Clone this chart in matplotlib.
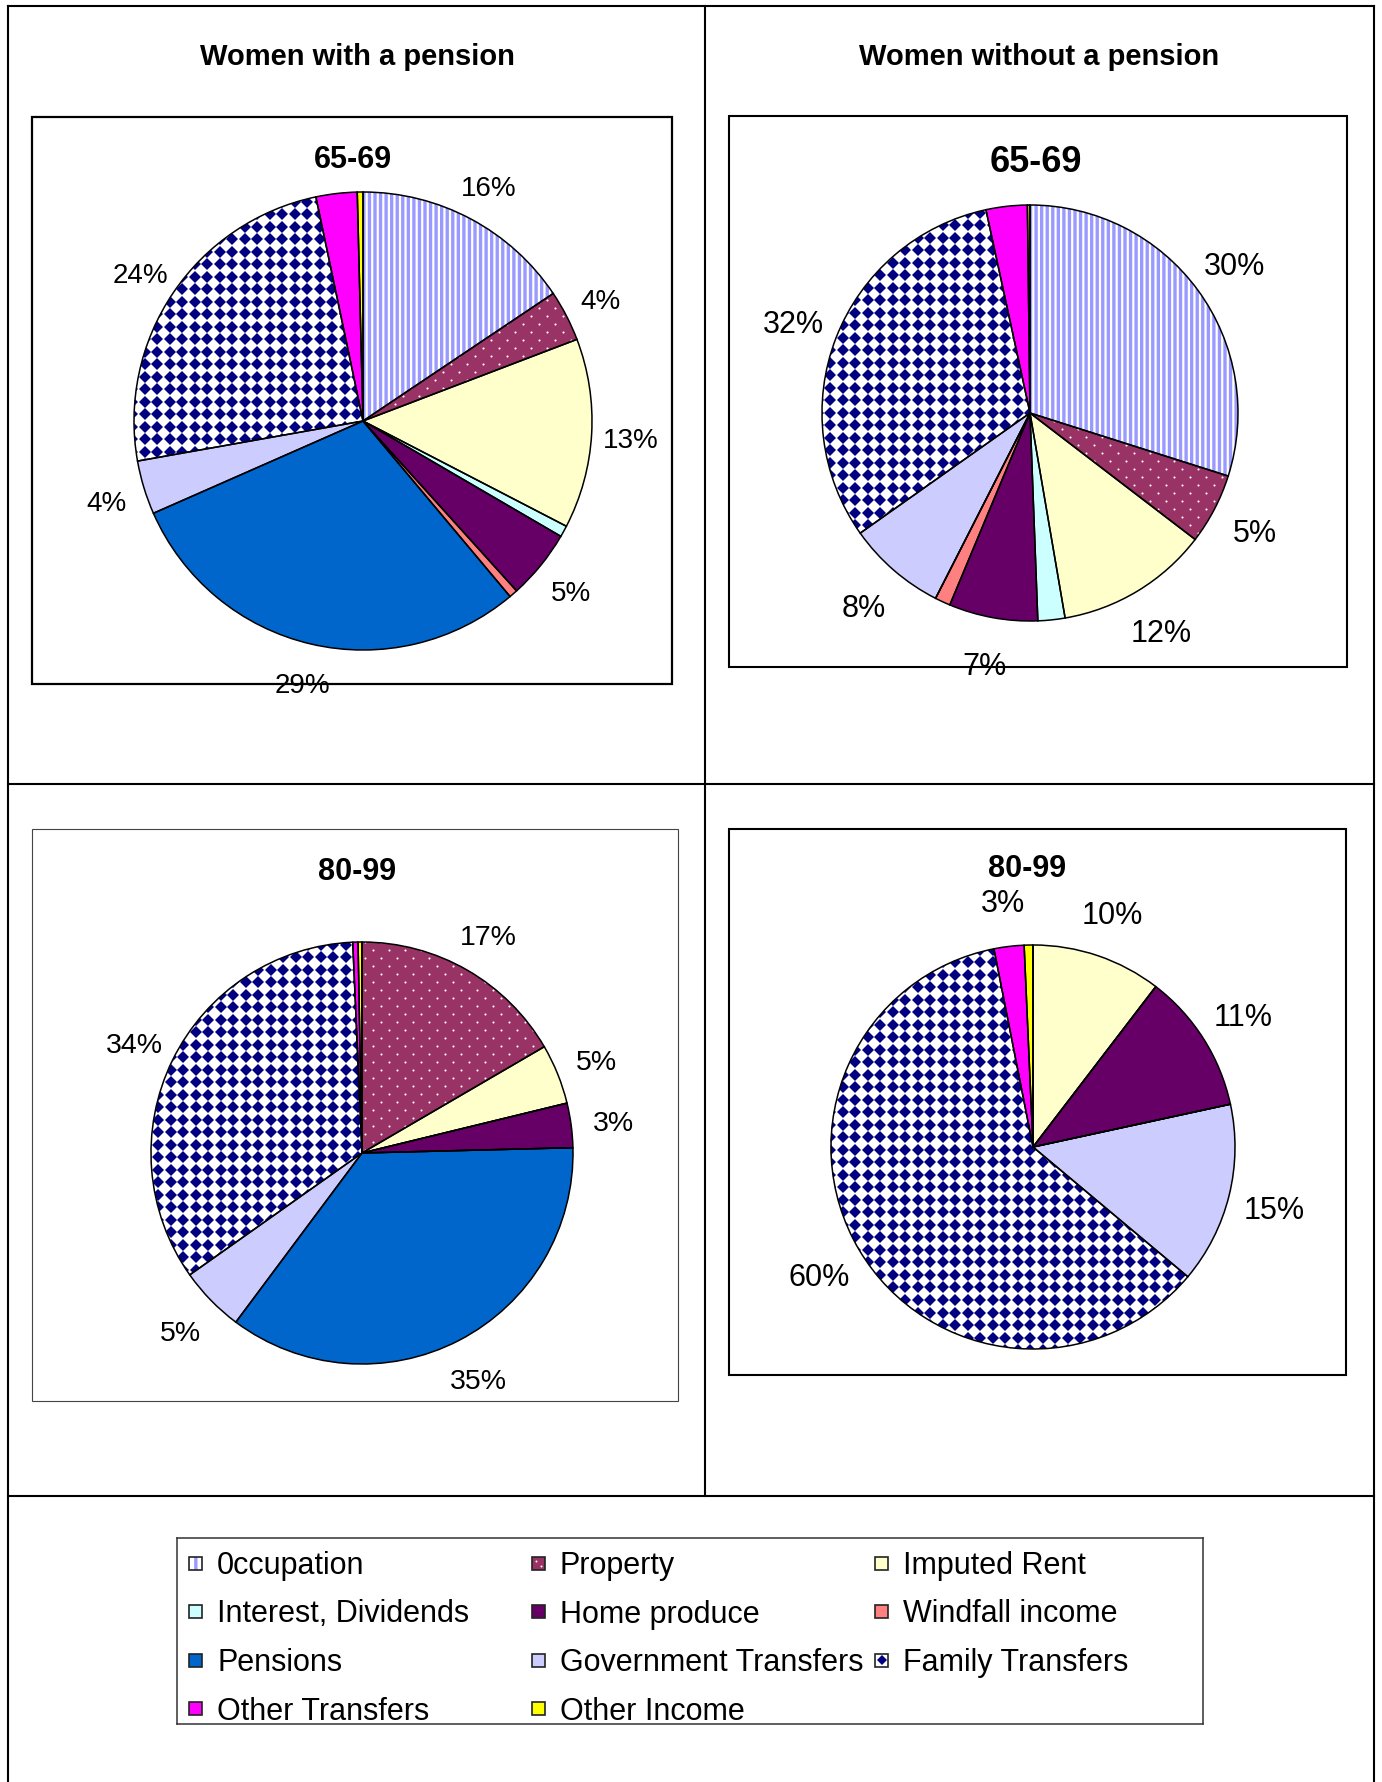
import numpy as np
import matplotlib
matplotlib.use("Agg")
import matplotlib.pyplot as plt
from matplotlib.patches import Rectangle
from matplotlib.lines import Line2D

plt.rcParams['font.family'] = ['Liberation Sans', 'DejaVu Sans']
plt.rcParams['hatch.linewidth'] = 2.4

# ---- data (percent shares, clockwise from 12 o'clock) ----
categories = ["0ccupation", "Property", "Imputed Rent",
              "Interest, Dividends", "Home produce", "Windfall income",
              "Pensions", "Government Transfers", "Family Transfers",
              "Other Transfers", "Other Income"]

with_pension_65 = [15.6, 3.6, 13.4, 0.8, 4.9, 0.6, 29.5, 3.8, 24.5, 2.9, 0.4]
without_pension_65 = [29.9, 5.5, 11.9, 2.1, 6.9, 1.2, 0.0, 7.7, 31.4, 3.2, 0.2]
with_pension_80 = [0.0, 16.6, 4.6, 0.0, 3.4, 0.0, 35.6, 5.0, 34.1, 0.4, 0.3]
without_pension_80 = [0.0, 0.0, 10.4, 0.0, 11.2, 0.0, 0.0, 14.5, 60.8, 2.4, 0.7]

labels_with_65 = ["16%", "4%", "13%", "", "5%", "", "29%", "4%", "24%", "", ""]
labels_without_65 = ["30%", "5%", "12%", "", "7%", "", "", "8%", "32%", "", ""]
labels_with_80 = ["", "17%", "5%", "", "3%", "", "35%", "5%", "34%", "", ""]
labels_without_80 = ["", "", "10%", "", "11%", "", "", "15%", "60%", "3%", ""]

# ---- styling ----
facecolors = ["white", "#993366", "#FFFFCC", "#CCFFFF", "#660066", "#FF8080",
              "#0066CC", "#CCCCFF", "white", "#FF00FF", "#FFFF00"]
OCC, PROP, FAMILY = 0, 1, 8
STRIPE = "#9999FF"
NAVY = "#000080"

W, H = 1382, 1782
fig = plt.figure(figsize=(W / 100, H / 100), dpi=100)


def frect(x0, y0, x1, y1):
    return [x0 / W, 1 - y1 / H, (x1 - x0) / W, (y1 - y0) / H]


def fline(xs, ys, lw=1.5, color="black"):
    fig.add_artist(Line2D([x / W for x in xs], [1 - y / H for y in ys],
                          transform=fig.transFigure, lw=lw, color=color))


def fbox(x0, y0, x1, y1, lw=1.5, color="black"):
    fig.add_artist(Rectangle((x0 / W, 1 - y1 / H), (x1 - x0) / W, (y1 - y0) / H,
                             transform=fig.transFigure, fill=False, lw=lw,
                             edgecolor=color))


def texture(ax, patch, unit, pitch_x, pitch_y, stagger, marker, ms, color):
    """grid of small markers clipped to a patch (unit = pixels per data unit)"""
    x0, x1 = ax.get_xlim()
    y0, y1 = sorted(ax.get_ylim())
    px, py = pitch_x / unit, pitch_y / unit
    xs, ys = [], []
    for k, y in enumerate(np.arange(y0, y1 + py, py)):
        shift = px / 2 if (stagger and k % 2) else 0
        row = np.arange(x0 + shift, x1 + px, px)
        xs.extend(row)
        ys.extend([y] * len(row))
    dots, = ax.plot(xs, ys, ls="none", marker=marker, ms=ms, mfc=color,
                    mec=color, mew=0, zorder=2)
    dots.set_clip_path(patch)


def draw_pie(vals, labels, cx, cy, r, fs, ld):
    ax = fig.add_axes(frect(cx - 1.5 * r, cy - 1.5 * r, cx + 1.5 * r, cy + 1.5 * r))
    wedges, texts = ax.pie(vals, colors=facecolors, labels=labels, startangle=90,
                           counterclock=False, labeldistance=ld,
                           wedgeprops=dict(linewidth=0),
                           textprops=dict(fontsize=fs))
    for w, fc in zip(wedges, facecolors):
        w.set_edgecolor(fc)
    wedges[OCC].set_edgecolor(STRIPE)
    wedges[OCC].set_hatch("|||")
    for t in texts:
        t.set_ha("center")
        t.set_va("center")
        x, y = t.get_position()
        t.set_position((x, y - 0.02))
    ax.set_xlim(-1.5, 1.5)
    ax.set_ylim(-1.5, 1.5)
    texture(ax, wedges[FAMILY], r, 12.5, 12.5, False, "D", 6.0, NAVY)
    texture(ax, wedges[PROP], r, 16, 8, True, "o", 1.5, "white")
    outline, _ = ax.pie(vals, startangle=90, counterclock=False,
                        wedgeprops=dict(fill=False, edgecolor="black", linewidth=1.1))
    for w in outline:
        w.set_zorder(3)
    ax.set_xlim(-1.5, 1.5)
    ax.set_ylim(-1.5, 1.5)
    ax.set_aspect("equal")
    ax.axis("off")
    return ax


# ---- table frame ----
fline([8, 1374], [6, 6])
fline([8, 8], [6, 1782])
fline([1374, 1374], [6, 1782])
fline([705, 705], [6, 1496])
fline([8, 1374], [784, 784])
fline([8, 1374], [1496, 1496])

fig.text(357 / W, 1 - 57 / H, "Women with a pension", ha="center", va="center",
         fontsize=21, fontweight="bold")
fig.text(1039 / W, 1 - 57 / H, "Women without a pension", ha="center", va="center",
         fontsize=21, fontweight="bold")

# chart boxes
fbox(32, 117, 672, 684, lw=1.6)
fbox(729, 116, 1347, 667, lw=1.5)
fbox(32, 829, 678, 1401, lw=0.8, color="#444444")
fbox(729, 829, 1346, 1375, lw=1.5)

draw_pie(with_pension_65, labels_with_65, 363, 421, 229, 20, 1.17)
draw_pie(without_pension_65, labels_without_65, 1030, 413, 208, 22, 1.22)
draw_pie(with_pension_80, labels_with_80, 362, 1153, 211, 20.5, 1.2)
draw_pie(without_pension_80, labels_without_80, 1033, 1147, 202, 22, 1.23)

fig.text(353 / W, 1 - 160 / H, "65-69", ha="center", va="center", fontsize=22, fontweight="bold")
fig.text(1036 / W, 1 - 163 / H, "65-69", ha="center", va="center", fontsize=26, fontweight="bold")
fig.text(357 / W, 1 - 872 / H, "80-99", ha="center", va="center", fontsize=22, fontweight="bold")
fig.text(1027 / W, 1 - 869 / H, "80-99", ha="center", va="center", fontsize=22, fontweight="bold")

# ---- legend (row-major, 3 columns) ----
lx0, ly0, lx1, ly1 = 177, 1538, 1203, 1724
lax = fig.add_axes(frect(lx0, ly0, lx1, ly1))
lax.set_xlim(0, lx1 - lx0)
lax.set_ylim(ly1 - ly0, 0)
lax.set_xticks([])
lax.set_yticks([])
for s in lax.spines.values():
    s.set_linewidth(1.1)
    s.set_edgecolor("#333333")

sq = 13
for i, name in enumerate(categories):
    row, col = divmod(i, 3)
    x = 12 + 343 * col
    yc = 25 + 48.5 * row
    fill = Rectangle((x, yc - sq / 2), sq, sq, facecolor=facecolors[i],
                     edgecolor=STRIPE if i == OCC else facecolors[i], lw=0,
                     hatch="||" if i == OCC else None)
    lax.add_patch(fill)
    if i == FAMILY:
        lax.plot([x + sq / 2], [yc], marker="D", ms=5, color=NAVY, mew=0, zorder=2)
    if i == PROP:
        lax.plot([x + 4, x + 9], [yc - 2, yc + 3], ls="none", marker="o", ms=1.4,
                 color="white", mew=0, zorder=2)
    lax.add_patch(Rectangle((x, yc - sq / 2), sq, sq, fill=False,
                            edgecolor="#222222", lw=1.2, zorder=3))
    lax.text(x + 28, yc + 3, name, fontsize=22, va="center", ha="left")

fig.savefig("out.png", dpi=100)
